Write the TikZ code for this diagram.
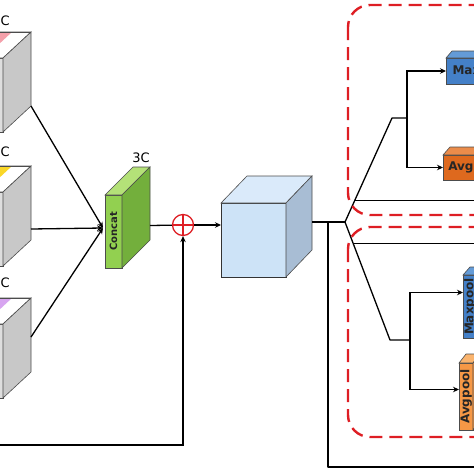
\documentclass[tikz,border=0pt]{standalone}
\usepackage{fontspec}
\setmainfont{DejaVu Sans}
\usepackage{tikz}
\usepackage{xcolor}
\usetikzlibrary{arrows.meta, positioning, calc}
\definecolor{graycol}{RGB}{200,200,200}
\definecolor{grayfront}{RGB}{222,222,222}
\definecolor{pinkcol}{RGB}{244,160,170}
\definecolor{yellowcol}{RGB}{250,215,40}
\definecolor{purplecol}{RGB}{215,165,240}
\definecolor{concatcol}{RGB}{146,208,80}
\definecolor{concattop}{RGB}{180,225,120}
\definecolor{concatside}{RGB}{115,175,60}
\definecolor{cubefront}{RGB}{205,227,247}
\definecolor{cubetop}{RGB}{218,234,250}
\definecolor{cubeside}{RGB}{168,189,212}
\definecolor{maxcol}{RGB}{68,128,200}
\definecolor{maxtop}{RGB}{100,155,215}
\definecolor{avgdark}{RGB}{222,105,30}
\definecolor{avgdarktop}{RGB}{235,140,75}
\definecolor{avglight}{RGB}{246,152,70}
\definecolor{avglighttop}{RGB}{250,180,110}
\definecolor{dashred}{RGB}{222,30,36}
\tikzstyle{link} = [line width=1.3pt, line join=round]
\tikzstyle{arrow} = [-{Stealth[length=6pt,width=5.5pt]}, line width=1.3pt]
\tikzstyle{boxface} = [draw=black!70, line width=0.6pt]
\tikzstyle{boxfront} = [boxface, rectangle, inner sep=0pt, outer sep=0pt]
\tikzstyle{dashbox} = [draw=dashred, line width=2.4pt, dash pattern=on 13pt off 7pt, rounded corners=22pt]
\tikzstyle{poollabel} = [font=\fontsize{12}{14}\selectfont\bfseries, text=black!85]
\tikzstyle{dimlabel} = [font=\fontsize{13}{15}\selectfont]
\newcommand{\boxfaces}[5]{%
    \draw[boxface, fill=#4] (#1.north west) -- ++(#2,-#3) -- ($(#1.north east)+(#2,-#3)$) -- (#1.north east) -- cycle;
    \draw[boxface, fill=#5] (#1.north east) -- ++(#2,-#3) -- ($(#1.south east)+(#2,-#3)$) -- (#1.south east) -- cycle;
}
\begin{document}
\begin{tikzpicture}[x=1pt, y=-1pt]
    \useasboundingbox (0,0) rectangle (474,474);
    \clip (0,0) rectangle (474,474);

    % Input feature maps
    \foreach \i/\y/\c/\ly in {1/58/pinkcol/21, 2/192/yellowcol/152, 3/324/purplecol/283} {
        \node[boxfront, fill=grayfront, minimum width=60pt, minimum height=74pt, anchor=north east] (in\i) at (3,\y) {};
        \boxfaces{in\i}{28}{26}{white}{graycol}
        \fill[\c] ($(in\i.north east)+(9,-26)$) -- ++(-28,26) -- ++(-30,0) -- ++(28,-26) -- cycle;
        \draw[boxface] ($(in\i.north east)+(28,-26)$) -- ++(-70,0);
        \node[dimlabel, anchor=west, inner sep=0pt] (c\i) at (0.5,\ly) {C};
    }

    % Concatenation
    \node[boxfront, fill=concatcol, minimum width=17pt, minimum height=73pt, anchor=north west] (concat) at (105,195) {\rotatebox{90}{\fontsize{10}{11}\selectfont\bfseries\color{black!85}Concat}};
    \boxfaces{concat}{28}{28}{concattop}{concatside}
    \node[dimlabel] (c3c) at (141,158) {3C};

    \coordinate (cin) at (103,228);
    \draw[arrow] ($(in1.south east)+(28,-26)$) -- (cin);
    \draw[arrow] ($(in2.east)+(28,0)$) -- (cin);
    \draw[arrow] ($(in3.east)+(28,-24)$) -- (cin);

    % Residual addition
    \node[circle, draw=dashred, line width=1.3pt, minimum size=21pt, inner sep=0pt,
          path picture={\draw[dashred, line width=1.2pt] (path picture bounding box.north) -- (path picture bounding box.south)
                        (path picture bounding box.west) -- (path picture bounding box.east);}] (add) at (183,225) {};
    \draw[link] ($(concat.east)+(28,-6)$) -- (add);
    \coordinate (skipL) at (-5,445);
    \draw[arrow] (skipL) -| (add);

    % Fused feature
    \node[boxfront, draw=black!80, fill=cubefront, minimum width=65pt, minimum height=74pt, anchor=north west] (feat) at (221,203) {};
    \boxfaces{feat}{26}{27}{cubetop}{cubeside}
    \draw[arrow] (add) -- (add -| feat.west);

    % Pooling blocks
    \node[boxfront, poollabel, fill=maxcol, minimum width=70pt, minimum height=26pt, anchor=north west] (max1) at (446,58) {Maxpool};
    \boxfaces{max1}{6}{7}{maxtop}{maxcol}
    \node[boxfront, poollabel, fill=avgdark, minimum width=65pt, minimum height=25pt, anchor=north west] (avg1) at (443,155) {Avgpool};
    \boxfaces{avg1}{7}{8}{avgdarktop}{avgdark}
    \node[boxfront, poollabel, fill=maxcol, minimum width=14pt, minimum height=63pt, anchor=north west] (maxB) at (463,275) {\rotatebox{90}{Maxpool}};
    \boxfaces{maxB}{7}{8}{maxtop}{maxcol}
    \node[boxfront, poollabel, fill=avglight, minimum width=14pt, minimum height=67pt, anchor=north west] (avgB) at (459,363) {\rotatebox{90}{Avgpool}};
    \boxfaces{avgB}{7}{9}{avglighttop}{avglight}

    % Branches
    \coordinate (fout) at ($(feat.east)+(26,-18)$);
    \coordinate (tap) at (328,222);
    \coordinate (fork) at (345,222);
    \coordinate (rim) at (490,0);
    \coordinate (skipR) at (490,467);
    \draw[link] (fout) -- (fork);
    \draw[link] (tap) |- (skipR);

    \coordinate (knee1) at (392,118);
    \coordinate (split1) at (407,118);
    \draw[link] (fork) -- (knee1) -- (split1);
    \draw[arrow] (split1) |- (max1.west);
    \draw[arrow] (split1) |- (avg1.west);
    \draw[link] ($(fork)!0.21!(knee1)$) coordinate (g1) -- (g1 -| rim);

    \coordinate (knee2) at (390,340);
    \coordinate (split2) at (410,340);
    \draw[link] (fork) -- (knee2) -- (split2);
    \draw[arrow] (split2) |- ([yshift=14pt]maxB.west);
    \draw[arrow] (split2) |- ([yshift=7pt]avgB.west);
    \draw[link] ($(fork)!0.18!(knee2)$) coordinate (g2) -- (g2 -| rim);

    % Attention groups
    \draw[dashbox] (348,5) rectangle (520,215);
    \draw[dashbox] (348,227) rectangle (520,437);
\end{tikzpicture}
\end{document}
